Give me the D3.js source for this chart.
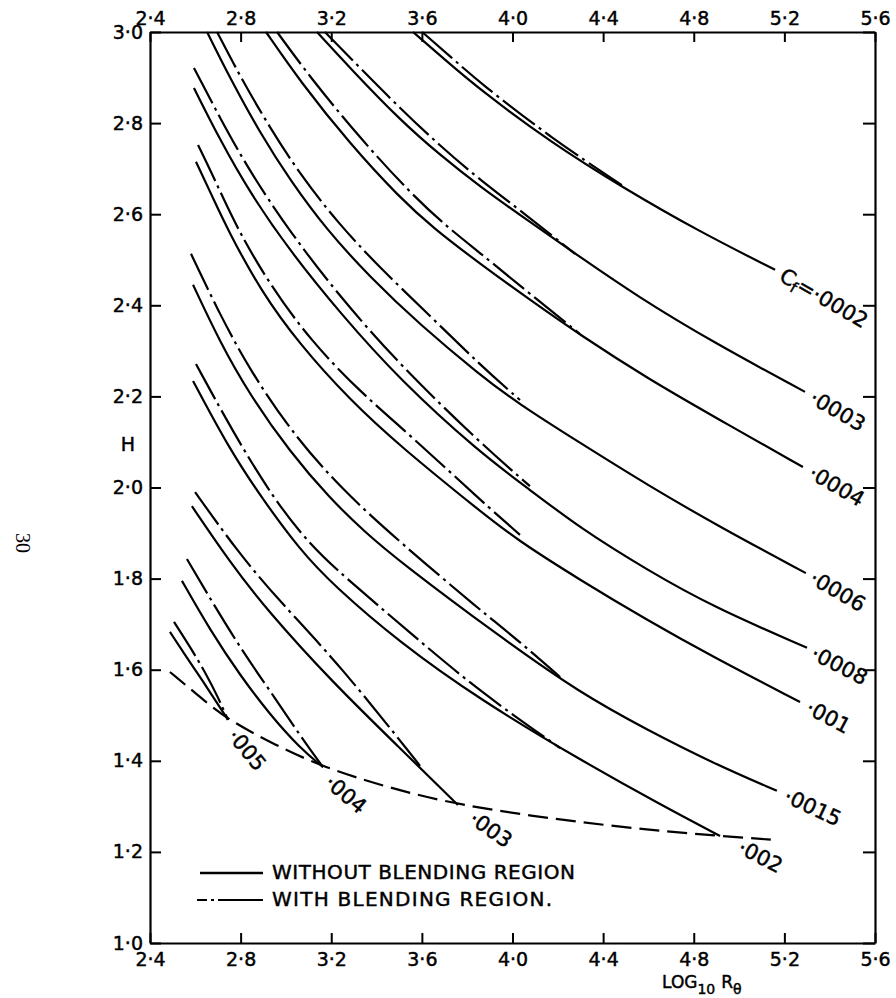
<!DOCTYPE html>
<html>
<head>
<meta charset="utf-8">
<script src="https://cdn.jsdelivr.net/npm/d3@7"></script>
<style>
  body { margin: 0; background: #fff; }
  svg { display: block; font-family: 'DejaVu Sans', sans-serif; }
  svg text { stroke: #000; stroke-width: 0.45px; }
</style>
</head>
<body>
<div id="chart"><svg width="896" height="998"></svg></div>
<script>
// tick values
const X_TICKS = [2.4, 2.8, 3.2, 3.6, 4.0, 4.4, 4.8, 5.2, 5.6];
const Y_TICKS = [1.0, 1.2, 1.4, 1.6, 1.8, 2.0, 2.2, 2.4, 2.6, 2.8, 3.0];

// skin friction coefficients, one curve pair each
const CF = ['0002', '0003', '0004', '0006', '0008', '001', '0015', '002', '003', '004', '005'];

// [log10 R_theta, H] -- without blending region (solid)
const SOLID = [
  [[3.561, 3.0], [3.702, 2.939], [3.857, 2.873], [4.166, 2.759], [4.488, 2.658], [4.828, 2.561], [5.159, 2.478]],
  [[3.137, 3.0], [3.283, 2.921], [3.503, 2.807], [3.68, 2.73], [3.857, 2.66], [4.077, 2.583], [4.298, 2.506], [4.55, 2.42], [4.885, 2.319], [5.291, 2.21]],
  [[2.912, 3.0], [3.062, 2.892], [3.283, 2.754], [3.503, 2.636], [3.649, 2.57], [3.857, 2.491], [4.077, 2.412], [4.298, 2.335], [4.594, 2.24], [4.916, 2.148], [5.282, 2.045]],
  [[2.652, 3.0], [2.753, 2.899], [2.886, 2.778], [3.018, 2.675], [3.181, 2.565], [3.371, 2.462], [3.592, 2.357], [3.857, 2.247], [4.02, 2.186], [4.298, 2.098], [4.594, 2.006], [4.916, 1.913], [5.295, 1.812]],
  [[2.594, 2.877], [2.709, 2.763], [2.841, 2.647], [3.018, 2.519], [3.239, 2.383], [3.503, 2.236], [3.857, 2.076], [4.077, 1.995], [4.298, 1.911], [4.594, 1.819], [4.885, 1.738], [5.3, 1.648]],
  [[2.603, 2.715], [2.674, 2.64], [2.744, 2.565], [2.886, 2.434], [3.062, 2.313], [3.283, 2.192], [3.503, 2.091], [3.857, 1.948], [4.02, 1.885], [4.298, 1.797], [4.594, 1.709], [4.885, 1.628], [5.269, 1.529]],
  [[2.59, 2.445], [2.709, 2.319], [2.841, 2.203], [3.018, 2.078], [3.194, 1.976], [3.349, 1.902], [3.503, 1.837], [3.945, 1.672], [4.298, 1.549], [4.594, 1.468], [4.885, 1.395], [5.167, 1.334]],
  [[2.59, 2.234], [2.753, 2.082], [2.899, 1.973], [3.062, 1.863], [3.208, 1.786], [3.503, 1.659], [3.857, 1.534], [4.298, 1.402], [4.664, 1.301], [4.916, 1.235]],
  [[2.585, 1.959], [2.753, 1.836], [2.916, 1.731], [3.208, 1.571], [3.503, 1.428], [3.759, 1.303]],
  [[2.541, 1.795], [2.665, 1.687], [2.797, 1.588], [2.93, 1.501], [3.062, 1.428], [3.164, 1.386]],
  [[2.488, 1.683], [2.555, 1.632], [2.621, 1.584], [2.687, 1.534], [2.744, 1.49]],
];

// with blending region (dash-dot), up to where it joins the solid curve
const BLEND = [
  [[3.601, 3.0], [3.724, 2.947], [3.857, 2.888], [4.166, 2.769], [4.488, 2.662]],
  [[3.172, 3.0], [3.327, 2.921], [3.503, 2.833], [3.68, 2.75], [3.857, 2.675], [4.077, 2.592], [4.276, 2.513]],
  [[2.961, 3.0], [3.106, 2.901], [3.327, 2.767], [3.548, 2.647], [3.702, 2.576], [3.857, 2.515], [4.077, 2.425], [4.298, 2.337]],
  [[2.696, 3.0], [2.797, 2.903], [2.93, 2.789], [3.062, 2.688], [3.225, 2.583], [3.415, 2.482], [3.636, 2.377], [3.857, 2.269], [4.033, 2.192]],
  [[2.594, 2.921], [2.709, 2.811], [2.841, 2.693], [3.018, 2.561], [3.239, 2.418], [3.503, 2.269], [3.857, 2.098], [4.077, 2.003]],
  [[2.612, 2.752], [2.687, 2.675], [2.788, 2.565], [2.93, 2.445], [3.106, 2.324], [3.327, 2.21], [3.548, 2.115], [3.857, 1.973], [4.033, 1.896]],
  [[2.581, 2.513], [2.709, 2.379], [2.841, 2.258], [3.018, 2.126], [3.239, 1.999], [3.503, 1.88], [3.857, 1.731], [4.033, 1.661], [4.21, 1.584]],
  [[2.603, 2.271], [2.766, 2.122], [2.943, 1.977], [3.106, 1.874], [3.261, 1.803], [3.548, 1.681], [3.857, 1.551], [4.21, 1.428]],
  [[2.599, 1.99], [2.788, 1.858], [2.974, 1.749], [3.239, 1.61], [3.592, 1.389]],
  [[2.563, 1.843], [2.687, 1.738], [2.819, 1.632], [2.952, 1.538], [3.075, 1.446], [3.164, 1.386]],
  [[2.506, 1.705], [2.577, 1.65], [2.643, 1.595], [2.7, 1.54], [2.744, 1.49]],
];

// dashed limit line along the lower ends
const LIMIT = [[2.488, 1.595], [2.621, 1.54], [2.744, 1.49], [2.952, 1.435], [3.164, 1.386], [3.459, 1.34],
  [3.759, 1.303], [4.21, 1.27], [4.607, 1.248], [4.916, 1.235], [5.167, 1.226]];

// label placement relative to curve end: dx, dy, angle
const LABEL_POS = [[6, 5, 30], [6, 5, 30], [7, 5, 30], [5, 4, 30], [5, 5, 27], [7, 5, 28], [8, 5, 25],
  [19, 11, 27], [13, 12, 35], [4, 13, 40], [3, 13, 50]];

const SVG = d3.select('#chart svg');
const WIDTH = 896;
const HEIGHT = 998;
const MARGIN = { top: 32, right: 21, bottom: 55, left: 150 };
const FONT = "'DejaVu Sans', sans-serif";

const X_SCALE = d3.scaleLinear().domain([2.4, 5.6]).range([MARGIN.left, WIDTH - MARGIN.right]);
const Y_SCALE = d3.scaleLinear().domain([1.0, 3.0]).range([HEIGHT - MARGIN.bottom, MARGIN.top]);
const fmt = (d) => d3.format('.1f')(d).replace('.', '\u00b7');

function styleAxis(g) {
  g.select('.domain').attr('stroke-width', 2.2);
  g.selectAll('.tick line').attr('stroke-width', 2);
  g.selectAll('text').attr('font-size', 19).attr('font-family', FONT).attr('fill', '#000');
}

SVG.append('g')
  .attr('transform', `translate(0,${HEIGHT - MARGIN.bottom})`)
  .call(d3.axisBottom(X_SCALE).tickValues(X_TICKS).tickSize(-10).tickSizeOuter(0).tickPadding(10).tickFormat(fmt))
  .call(styleAxis);
SVG.append('g')
  .attr('transform', `translate(0,${MARGIN.top})`)
  .call(d3.axisTop(X_SCALE).tickValues(X_TICKS).tickSize(-10).tickSizeOuter(0).tickPadding(7).tickFormat(fmt))
  .call(styleAxis);
SVG.append('g')
  .attr('transform', `translate(${MARGIN.left},0)`)
  .call(d3.axisLeft(Y_SCALE).tickValues(Y_TICKS).tickSize(-11).tickSizeOuter(0).tickPadding(7).tickFormat(fmt))
  .call(styleAxis);
SVG.append('g')
  .attr('transform', `translate(${WIDTH - MARGIN.right},0)`)
  .call(d3.axisRight(Y_SCALE).tickValues(Y_TICKS).tickSize(-12).tickSizeOuter(0).tickFormat(() => ''))
  .call(styleAxis);

// curves
const LINE = d3.line()
  .x((d) => X_SCALE(d[0]))
  .y((d) => Y_SCALE(d[1]))
  .curve(d3.curveBasis);

const CURVES = SVG.append('g').attr('id', 'curves').attr('fill', 'none').attr('stroke', '#000');

CURVES.append('path')
  .attr('d', LINE(LIMIT))
  .attr('stroke-width', 2.2)
  .attr('stroke-dasharray', '20,8');

CURVES.selectAll('path.blend')
  .data(BLEND)
  .join('path')
  .attr('class', 'blend')
  .attr('d', LINE)
  .attr('stroke-width', 2.2)
  .attr('stroke-dasharray', '40,5,3,5');

CURVES.selectAll('path.solid')
  .data(SOLID)
  .join('path')
  .attr('class', 'solid')
  .attr('d', LINE)
  .attr('stroke-width', 2.2);

// curve labels
const LABELS = SVG.append('g').attr('id', 'labels').attr('font-family', FONT).attr('font-size', 21);
CF.forEach((cf, i) => {
  const end = SOLID[i][SOLID[i].length - 1];
  const [dx, dy, a] = LABEL_POS[i];
  const t = LABELS.append('text')
    .attr('transform', `translate(${X_SCALE(end[0]) + dx},${Y_SCALE(end[1]) + dy}) rotate(${a})`)
    .attr('dominant-baseline', 'middle');
  if (i === 0) {
    t.append('tspan').text('C');
    t.append('tspan').attr('font-size', 15).attr('dy', 5).text('f');
    t.append('tspan').attr('dy', -5).text('=\u00b7' + cf);
  } else {
    t.text('\u00b7' + cf);
  }
});

// axis titles
SVG.append('text')
  .attr('x', MARGIN.left - 22)
  .attr('y', Y_SCALE(2.1) + 4)
  .attr('text-anchor', 'middle')
  .attr('dominant-baseline', 'middle')
  .attr('font-family', FONT)
  .attr('font-size', 19)
  .text('H');

const XT = SVG.append('text')
  .attr('x', X_SCALE(4.66))
  .attr('y', HEIGHT - 10)
  .attr('font-family', FONT)
  .attr('font-size', 17);
XT.append('tspan').text('LOG');
XT.append('tspan').attr('font-size', 14).attr('dy', 6).text('10');
XT.append('tspan').attr('dy', -6).attr('dx', 6).text('R');
XT.append('tspan').attr('font-size', 14).attr('dy', 6).text('\u03b8');

// legend
const LEGEND = SVG.append('g').attr('id', 'legend').attr('font-family', FONT).attr('font-size', 20);
LEGEND.append('line')
  .attr('x1', 200).attr('x2', 263).attr('y1', 873).attr('y2', 873)
  .attr('stroke', '#000').attr('stroke-width', 2.5);
LEGEND.append('text')
  .attr('x', 272).attr('y', 873).attr('dominant-baseline', 'middle')
  .attr('textLength', 303).attr('lengthAdjust', 'spacing')
  .text('WITHOUT BLENDING REGION');
LEGEND.append('line')
  .attr('x1', 197).attr('x2', 263).attr('y1', 900).attr('y2', 900)
  .attr('stroke', '#000').attr('stroke-width', 2.2)
  .attr('stroke-dasharray', '10,4,3,4,49');
LEGEND.append('text')
  .attr('x', 272).attr('y', 900).attr('dominant-baseline', 'middle')
  .attr('textLength', 280).attr('lengthAdjust', 'spacing')
  .text('WITH  BLENDING  REGION.');

// page number in the margin
SVG.append('text')
  .attr('transform', 'translate(21,543) rotate(90)')
  .attr('text-anchor', 'middle')
  .attr('dominant-baseline', 'middle')
  .attr('font-family', "'Liberation Serif', serif")
  .attr('font-size', 20)
  .style('stroke-width', 0)
  .text('30');
</script>
</body>
</html>
